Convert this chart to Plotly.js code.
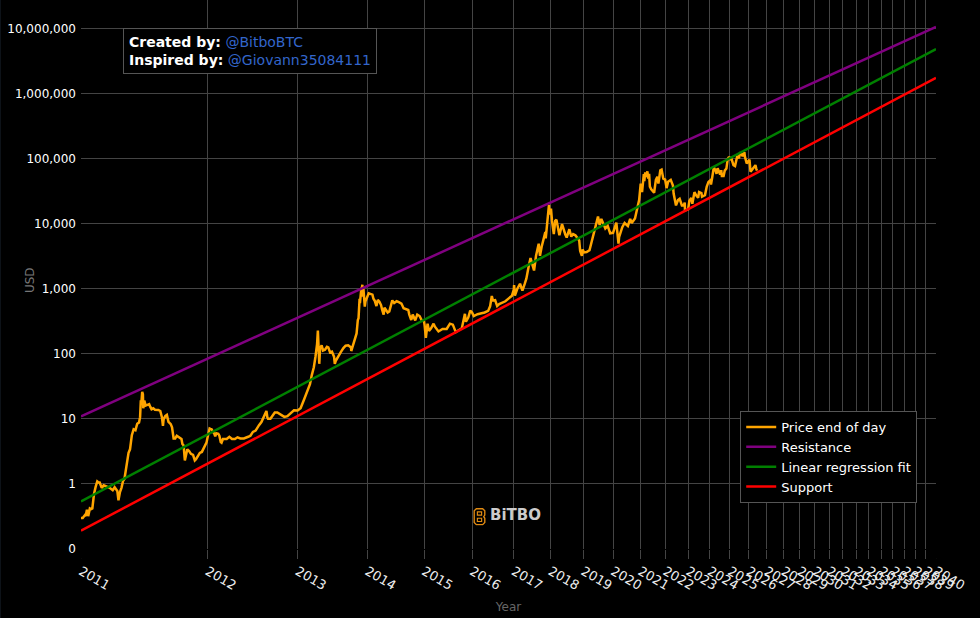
<!DOCTYPE html>
<html>
<head>
<meta charset="utf-8">
<script src="https://cdn.plot.ly/plotly-3.0.1.min.js"></script>
<style>
html, body { margin: 0; padding: 0; background: #0d1218; }
#chart { width: 979px; height: 618px; margin-left: 1px; }
</style>
</head>
<body>
<div id="chart"></div>
<script>
var genesis = Date.UTC(2009, 0, 3);

var tickYears = [2011, 2012, 2013, 2014, 2015, 2016, 2017, 2018, 2019, 2020, 2021, 2022, 2023, 2024, 2025,
    2026, 2027, 2028, 2029, 2030, 2031, 2032, 2033, 2034, 2035, 2036, 2037, 2038, 2039, 2040];
var yTickVals = [0.1, 1, 10, 100, 1000, 10000, 100000, 1000000, 10000000];
var yTickText = ["0", "1", "10", "100", "1,000", "10,000", "100,000", "1,000,000", "10,000,000"];

// price end of day
var priceDates = [
    "2011-01-01","2011-01-05","2011-01-10","2011-01-12","2011-01-15","2011-01-18","2011-01-22","2011-01-25","2011-01-28","2011-02-01",
    "2011-02-05","2011-02-09","2011-02-12","2011-02-15","2011-02-20","2011-02-25","2011-03-01","2011-03-06","2011-03-12","2011-03-20",
    "2011-03-25","2011-04-01","2011-04-04","2011-04-08","2011-04-12","2011-04-16","2011-04-20","2011-05-01","2011-05-05","2011-05-10",
    "2011-05-15","2011-05-20","2011-05-25","2011-05-30","2011-06-02","2011-06-04","2011-06-06","2011-06-08","2011-06-10","2011-06-11",
    "2011-06-12","2011-06-14","2011-06-18","2011-06-22","2011-06-28","2011-07-01","2011-07-05","2011-07-10","2011-07-15","2011-07-25",
    "2011-07-31","2011-08-05","2011-08-08","2011-08-10","2011-08-15","2011-08-20","2011-08-25","2011-09-01","2011-09-05","2011-09-10",
    "2011-09-15","2011-09-20","2011-09-25","2011-10-01","2011-10-05","2011-10-08","2011-10-12","2011-10-16","2011-10-20","2011-10-24",
    "2011-10-30","2011-11-05","2011-11-12","2011-11-18","2011-11-22","2011-11-28","2011-12-05","2011-12-12","2011-12-18","2011-12-22",
    "2011-12-28","2012-01-01","2012-01-05","2012-01-08","2012-01-11","2012-01-15","2012-01-20","2012-01-25","2012-01-28","2012-02-01",
    "2012-02-08","2012-02-12","2012-02-17","2012-02-20","2012-02-25","2012-03-01","2012-03-10","2012-03-20","2012-03-30","2012-04-10",
    "2012-04-20","2012-05-01","2012-05-15","2012-06-01","2012-06-10","2012-06-20","2012-07-01","2012-07-15","2012-07-25","2012-08-05",
    "2012-08-15","2012-08-19","2012-08-22","2012-09-01","2012-09-10","2012-09-20","2012-10-01","2012-10-15","2012-11-01","2012-11-15",
    "2012-12-01","2012-12-15","2013-01-01","2013-01-15","2013-02-01","2013-02-15","2013-03-01","2013-03-10","2013-03-20","2013-03-28",
    "2013-04-05","2013-04-09","2013-04-11","2013-04-12","2013-04-16","2013-04-20","2013-04-28","2013-05-05","2013-05-15","2013-05-25",
    "2013-06-01","2013-06-10","2013-06-20","2013-07-01","2013-07-05","2013-07-10","2013-07-25","2013-08-05","2013-08-20","2013-09-01",
    "2013-09-15","2013-10-01","2013-10-02","2013-10-15","2013-11-01","2013-11-08","2013-11-12","2013-11-18","2013-11-20","2013-11-28",
    "2013-12-01","2013-12-04","2013-12-07","2013-12-10","2013-12-18","2013-12-22","2014-01-01","2014-01-10","2014-01-20","2014-02-01",
    "2014-02-07","2014-02-15","2014-02-25","2014-03-05","2014-03-15","2014-03-25","2014-04-01","2014-04-10","2014-04-15","2014-04-25",
    "2014-05-05","2014-05-15","2014-05-25","2014-06-03","2014-06-15","2014-07-01","2014-07-15","2014-08-01","2014-08-15","2014-09-01",
    "2014-09-15","2014-09-22","2014-10-05","2014-10-15","2014-11-01","2014-11-15","2014-12-01","2014-12-15","2015-01-01","2015-01-05",
    "2015-01-14","2015-01-18","2015-01-26","2015-02-05","2015-02-20","2015-03-10","2015-03-20","2015-04-15","2015-05-15","2015-06-15",
    "2015-07-10","2015-08-01","2015-08-24","2015-09-15","2015-10-10","2015-11-04","2015-11-12","2015-12-01","2015-12-17","2016-01-01",
    "2016-01-15","2016-02-15","2016-03-15","2016-04-15","2016-05-15","2016-06-01","2016-06-16","2016-06-25","2016-07-15","2016-08-02",
    "2016-08-20","2016-09-15","2016-10-15","2016-11-15","2016-12-15","2017-01-01","2017-01-04","2017-01-11","2017-02-01","2017-03-01",
    "2017-03-24","2017-04-15","2017-05-01","2017-05-25","2017-06-11","2017-07-16","2017-08-05","2017-09-01","2017-09-14","2017-10-01",
    "2017-10-20","2017-11-08","2017-11-12","2017-12-01","2017-12-07","2017-12-16","2017-12-22","2017-12-27","2018-01-06","2018-01-17",
    "2018-02-05","2018-02-20","2018-03-05","2018-04-06","2018-05-05","2018-06-10","2018-06-25","2018-07-25","2018-08-15","2018-09-05",
    "2018-10-01","2018-11-14","2018-11-25","2018-12-15","2018-12-24","2019-01-10","2019-02-08","2019-03-15","2019-04-02","2019-05-15",
    "2019-06-26","2019-07-16","2019-08-06","2019-09-25","2019-10-25","2019-11-25","2019-12-18","2020-01-01","2020-02-13","2020-03-12",
    "2020-03-20","2020-05-01","2020-06-01","2020-07-15","2020-08-15","2020-09-05","2020-10-20","2020-11-15","2020-12-17","2021-01-08",
    "2021-01-27","2021-02-21","2021-02-28","2021-03-13","2021-03-25","2021-04-13","2021-04-25","2021-05-08","2021-05-19","2021-06-08",
    "2021-06-22","2021-07-20","2021-08-15","2021-09-06","2021-09-21","2021-10-20","2021-11-08","2021-12-04","2022-01-01","2022-01-23",
    "2022-02-15","2022-03-28","2022-05-01","2022-05-12","2022-06-18","2022-07-20","2022-08-15","2022-09-20","2022-10-20","2022-11-05",
    "2022-11-09","2022-12-30","2023-01-20","2023-02-20","2023-03-10","2023-04-14","2023-05-15","2023-06-15","2023-07-01","2023-08-10",
    "2023-08-20","2023-10-10","2023-11-10","2023-12-10","2024-01-10","2024-01-23","2024-02-15","2024-03-13","2024-04-15","2024-05-01",
    "2024-05-20","2024-06-25","2024-07-05","2024-07-25","2024-08-05","2024-09-06","2024-09-27","2024-10-28","2024-11-22","2024-12-17",
    "2025-01-13","2025-01-21","2025-02-28","2025-03-10","2025-04-08","2025-05-21","2025-06-22","2025-07-14","2025-08-14","2025-09-01",
    "2025-10-06","2025-10-17","2025-11-21","2025-12-15","2026-01-15","2026-02-05","2026-02-25","2026-03-15","2026-04-15","2026-05-15",
    "2026-06-01","2026-06-15"
];
var priceUsd = [
    0.30,0.30,0.33,0.32,0.40,0.32,0.42,0.41,0.42,0.70,
    0.90,1.09,1.05,1.05,0.87,0.95,0.93,0.90,0.87,0.80,
    0.89,0.78,0.56,0.75,0.87,1.1,1.2,3.0,3.4,5.6,
    6.9,6.7,8.4,8.8,10.6,18.5,18.5,26,24,14.5,
    19,19,16,16.5,16.8,15.4,14,14.5,13.8,13.7,
    13.2,10.5,7.8,9.8,11,11.5,9,8.3,7.4,5.0,
    5.0,5.5,5.3,5.0,4.9,4.1,3.9,2.3,3.0,3.4,
    3.2,2.9,2.8,2.3,2.4,2.7,3.0,3.1,3.5,3.9,
    4.3,5.2,6.5,7.1,7.0,6.9,6.3,5.9,5.4,6.0,
    5.9,5.5,4.4,4.3,4.9,4.9,4.9,5.3,4.9,4.9,
    5.2,5.0,5.0,5.3,5.5,6.3,6.6,8.0,8.9,11,
    13.2,10.5,10,10,11,12.5,12.5,11.8,10.7,11,
    12.5,13.5,13.4,14.5,20,27,34,47,62,90,
    140,228,165,117,70,120,135,112,115,128,
    125,105,108,90,70,78,95,105,122,133,
    135,125,110,150,205,330,350,700,600,1000,
    1000,1150,750,1000,530,640,770,850,830,810,
    700,650,540,670,630,560,470,400,510,460,
    430,445,580,660,600,640,620,590,500,480,
    470,400,330,400,325,400,380,330,315,275,
    175,210,290,225,245,290,260,220,240,240,
    290,280,215,230,245,410,310,360,460,430,
    380,405,415,430,455,535,770,660,665,540,
    580,610,640,710,780,970,1130,780,980,1190,
    930,1180,1420,2250,2950,1900,3200,4900,3200,4400,
    6000,7400,5900,10800,16000,19400,13800,16000,17000,11000,
    6900,11000,11500,6600,9800,6800,6100,8200,6300,6900,
    6600,5500,3800,3200,4000,3600,3650,3900,4900,8000,
    12800,9500,11800,8400,9200,7100,7100,7200,10300,4900,
    6200,8800,10200,9200,11800,10200,12000,16000,23000,41000,
    30500,57500,45000,61000,52000,63500,49000,58000,37000,33500,
    32000,29800,47000,52500,41000,66000,67500,49000,47500,35000,
    44000,47000,38500,28900,19000,23000,24000,19000,19000,21000,
    15900,16500,22500,24800,20200,30400,27000,25000,30500,29400,
    26000,27400,37000,43700,46000,39900,52000,73000,65000,58000,
    71000,61000,56800,66000,54000,54000,65000,70000,98500,106000,
    94500,105000,84000,79000,76500,109500,101000,120000,118000,108000,
    125000,106000,84000,88000,96000,62800,66000,71000,75000,79000,
    70000,65000
];

// straight lines on the log-log axes, start and end of each
var lineDates = ["2011-01-01", "2040-01-01"];
var resistanceUsd = [10.9, 10500000];
var fitUsd = [0.538, 4800000];
var supportUsd = [0.191, 1730000];

var logoSvg = "<svg xmlns='http://www.w3.org/2000/svg' viewBox='0 0 12 17'>" +
    "<path d='M3 1h6l2 2v4l-1 1.500 1 1.500v4l-2 2H3l-2-2V3z' fill='none' stroke='#e08a12' stroke-width='1.300'/>" +
    "<path d='M4 4h4v3H4zM4 10h4v3H4z' fill='none' stroke='#e08a12' stroke-width='1.100'/></svg>";

function toDays(d) {
    return (Date.parse(d + "T00:00:00Z") - genesis) / 86400000;
}

var priceDays = priceDates.map(toDays);
var lineDays = lineDates.map(toDays);
var tickDays = tickYears.map(function (y) { return toDays(y + "-01-01"); });

var data = [
    { name: "Price end of day", type: "scatter", mode: "lines", x: priceDays, y: priceUsd, line: { color: "#ffa500", width: 2.5 } },
    { name: "Resistance", type: "scatter", mode: "lines", x: lineDays, y: resistanceUsd, line: { color: "#800080", width: 2.5 } },
    { name: "Linear regression fit", type: "scatter", mode: "lines", x: lineDays, y: fitUsd, line: { color: "#008000", width: 2.5 } },
    { name: "Support", type: "scatter", mode: "lines", x: lineDays, y: supportUsd, line: { color: "#ff0000", width: 2.5 } }
];

var layout = {
    width: 979,
    height: 618,
    paper_bgcolor: "#000",
    plot_bgcolor: "#000",
    margin: { l: 80, r: 44, t: 0, b: 69, pad: 0 },
    font: { family: "Verdana, 'DejaVu Sans', sans-serif", size: 13, color: "#fff" },
    showlegend: true,
    legend: {
        x: 0.771, y: 0.2515, xanchor: "left", yanchor: "top",
        bgcolor: "#000", bordercolor: "#555", borderwidth: 1,
        entrywidth: 134,
        font: { size: 13, color: "#fff" }
    },
    xaxis: {
        type: "log",
        range: [Math.log10(tickDays[0]), Math.log10(tickDays[tickDays.length - 1])],
        tickmode: "array",
        tickvals: tickDays,
        ticktext: tickYears.map(String),
        tickangle: 30,
        ticks: "outside",
        ticklen: 9,
        tickcolor: "#444",
        gridcolor: "#444",
        gridwidth: 1,
        showline: false,
        zeroline: false,
        tickfont: { size: 13, color: "#eee" },
        title: { text: "Year", font: { size: 12, color: "#666" }, standoff: 10 }
    },
    yaxis: {
        type: "log",
        range: [-1, 7.435],
        tickmode: "array",
        tickvals: yTickVals,
        ticktext: yTickText,
        ticks: "",
        gridcolor: "#444",
        gridwidth: 1,
        showline: false,
        zeroline: false,
        ticklabelstandoff: 4,
        tickfont: { size: 12, color: "#fff" }
    },
    // the two end ticks do not show in the original
    shapes: [
        { type: "rect", xref: "paper", yref: "paper", x0: -0.002, x1: 0.002, y0: -0.018, y1: -0.001, fillcolor: "#000", line: { width: 0 } },
        { type: "rect", xref: "paper", yref: "paper", x0: 0.998, x1: 1.002, y0: -0.018, y1: -0.001, fillcolor: "#000", line: { width: 0 } }
    ],
    images: [
        { source: "data:image/svg+xml," + encodeURIComponent(logoSvg), xref: "paper", yref: "paper",
          x: 392 / 855, y: 41.3 / 549, sizex: 13 / 855, sizey: 18 / 549, xanchor: "left", yanchor: "top", layer: "above" }
    ],
    annotations: [
        {
            xref: "paper", yref: "paper", x: 0.0495, y: 0.9497, xanchor: "left", yanchor: "top", align: "left",
            text: "<b>Created by:</b> <span style='color:#3366cc'>@BitboBTC</span><br><b>Inspired by:</b> <span style='color:#3366cc'>@Giovann35084111</span>",
            showarrow: false, bgcolor: "#000", bordercolor: "#555", borderwidth: 1, borderpad: 5,
            font: { size: 14, color: "#fff" }
        },
        {
            xref: "paper", yref: "paper", x: -0.0596, y: 0.49, xanchor: "center", yanchor: "middle",
            text: "USD", textangle: -90, showarrow: false,
            font: { size: 12, color: "#777" }
        },
        {
            xref: "paper", yref: "paper", x: 0.5082, y: 0.0625, xanchor: "center", yanchor: "middle",
            text: "<b>BiTBO</b>", showarrow: false,
            font: { size: 15, color: "#ccc" }
        }
    ]
};

Plotly.newPlot("chart", data, layout, { displayModeBar: false });
</script>
</body>
</html>
